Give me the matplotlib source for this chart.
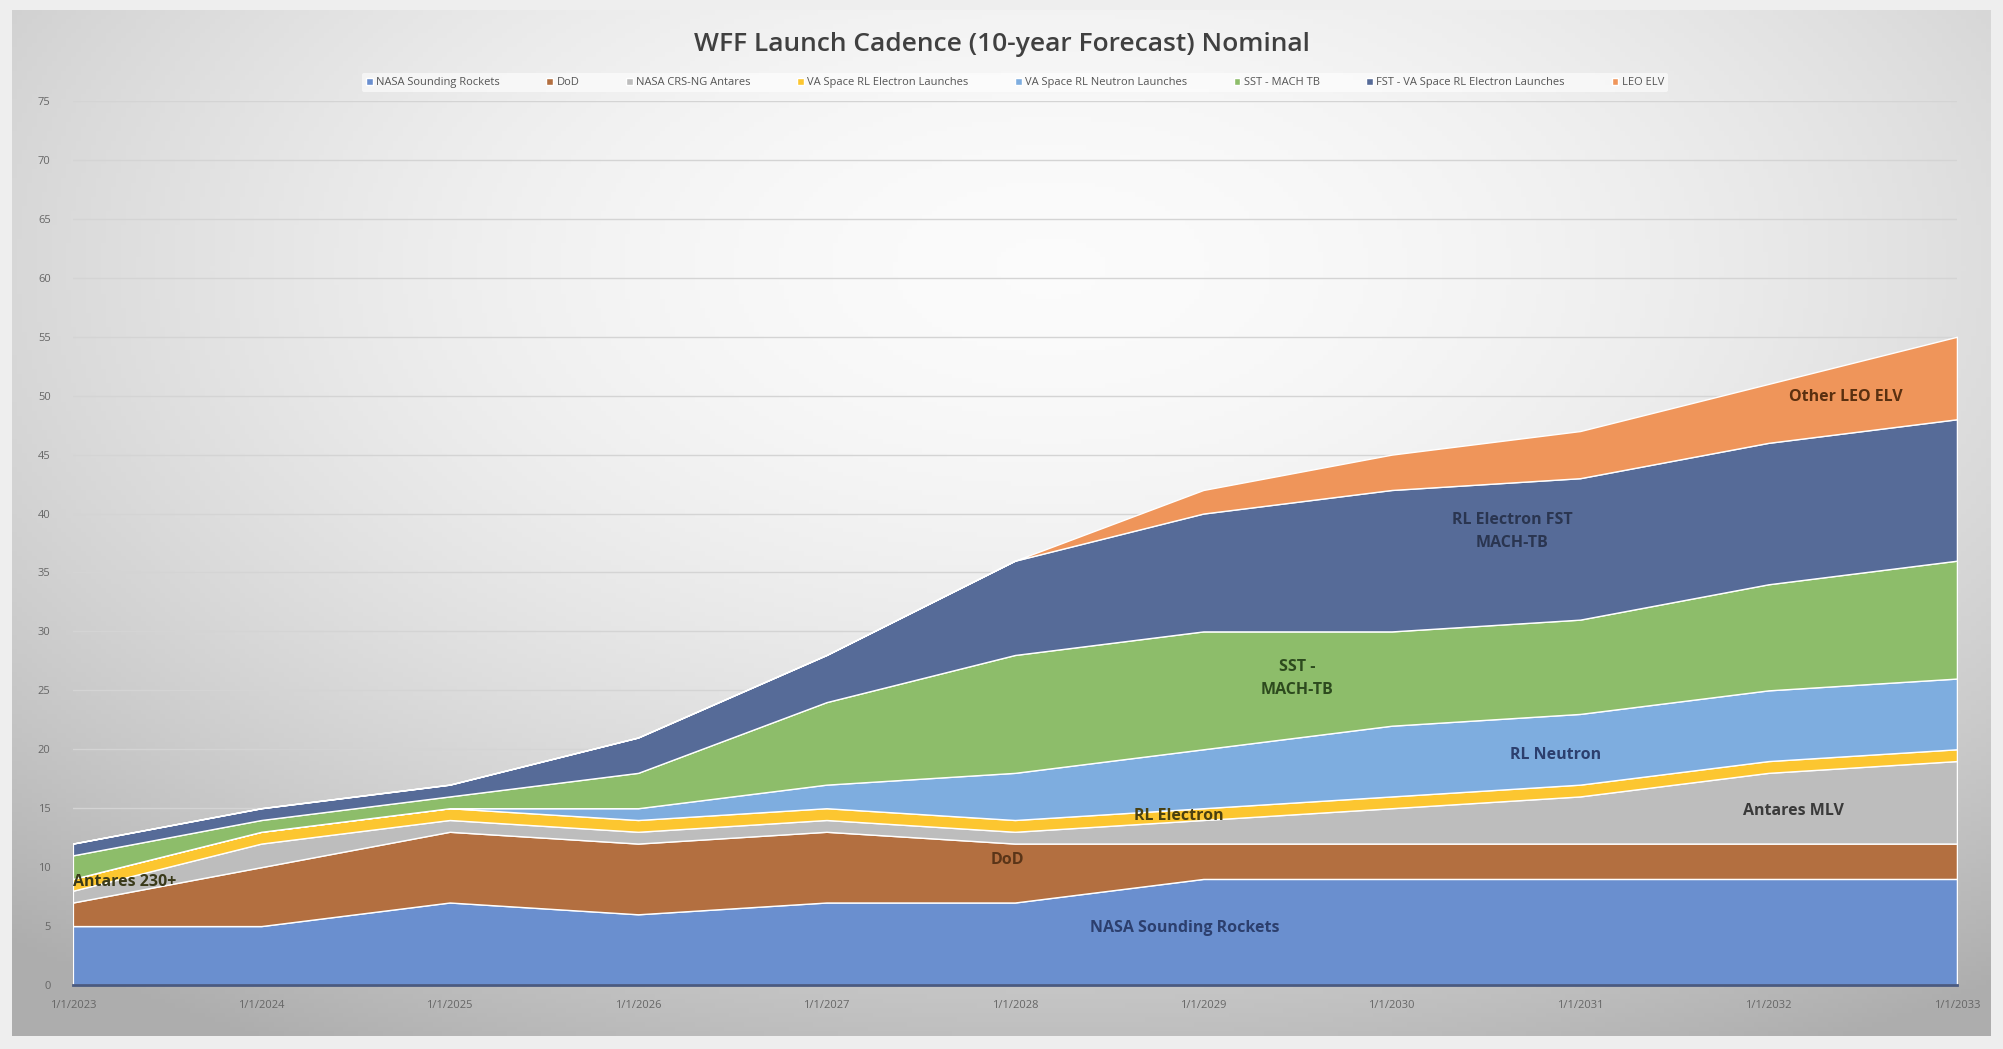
import numpy as np
import matplotlib.pyplot as plt

years = [2023, 2024, 2025, 2026, 2027, 2028, 2029, 2030, 2031, 2032, 2033]
x_labels = ['1/1/%d' % y for y in years]

# launches per year for each program (stacked)
nasa_sr = [5, 5, 7, 6, 7, 7, 9, 9, 9, 9, 9]
dod = [2, 5, 6, 6, 6, 5, 3, 3, 3, 3, 3]
crs_antares = [1, 2, 1, 1, 1, 1, 2, 3, 4, 6, 7]
rl_electron = [1, 1, 1, 1, 1, 1, 1, 1, 1, 1, 1]
rl_neutron = [0, 0, 0, 1, 2, 4, 5, 6, 6, 6, 6]
sst_mach = [2, 1, 1, 3, 7, 10, 10, 8, 8, 9, 10]
fst_electron = [1, 1, 1, 3, 4, 8, 10, 12, 12, 12, 12]
leo_elv = [0, 0, 0, 0, 0, 0, 2, 3, 4, 5, 7]

series = [nasa_sr, dod, crs_antares, rl_electron, rl_neutron, sst_mach, fst_electron, leo_elv]
names = ['NASA Sounding Rockets', 'DoD', 'NASA CRS-NG Antares', 'VA Space RL Electron Launches',
         'VA Space RL Neutron Launches', 'SST - MACH TB', 'FST - VA Space RL Electron Launches', 'LEO ELV']
colors = ['#6a8fcf', '#b36f40', '#bdbdbd', '#fcc630', '#7eaddf', '#8dbd6a', '#566b98', '#ef955a']

plt.rcParams['font.family'] = ['Open Sans', 'DejaVu Sans']

fig = plt.figure(figsize=(20.03, 10.49), dpi=100)

# background card with soft radial gradient (light centre, grey edges)
bg = fig.add_axes([0, 0, 1, 1], zorder=-10)
gx, gy = np.meshgrid(np.linspace(-1, 1, 400), np.linspace(-1, 1, 220))
r = np.sqrt(((gx - 0.05) * 0.8) ** 2 + ((gy + 0.5) * 0.75) ** 2)
shade = 0.985 - 0.19 * np.clip(r, 0, 1.3) ** 1.8
rgb = np.dstack([shade, shade, shade])
bg.imshow(rgb, extent=[0.006, 0.994, 0.012, 0.99], aspect='auto', origin='upper')
bg.set_xlim(0, 1)
bg.set_ylim(0, 1)
bg.axis('off')
fig.patch.set_facecolor('#eeeeee')

ax = fig.add_axes([0.0364, 0.061, 0.9406, 0.8427])
ax.patch.set_alpha(0)
ax.stackplot(years, *series, colors=colors, labels=names, edgecolor='white', linewidth=1.0)

ax.set_xlim(2023, 2033)
ax.set_ylim(0, 75)
ax.set_yticks(range(0, 76, 5))
ax.set_xticks(years)
ax.set_xticklabels(x_labels)
ax.tick_params(axis='both', length=0, labelsize=8, colors='#666666')
ax.tick_params(axis='x', pad=11)
ax.tick_params(axis='y', pad=16)
ax.grid(axis='y', color='#d4d4d4', linewidth=1)
ax.set_axisbelow(True)
for s in ['top', 'right', 'left']:
    ax.spines[s].set_visible(False)
ax.spines['bottom'].set_color('#4a5a80')
ax.spines['bottom'].set_linewidth(2)

fig.text(0.5, 0.958, 'WFF Launch Cadence (10-year Forecast) Nominal', ha='center', va='center',
         fontsize=19, color='#404040', fontweight='semibold')

leg = ax.legend(loc='center', bbox_to_anchor=(0.5, 1.021), ncol=8, frameon=True,
                fontsize=8, handlelength=0.6, handleheight=0.6, columnspacing=4.2,
                handletextpad=0.3, labelcolor='#555555')
leg.get_frame().set_facecolor('white')
leg.get_frame().set_alpha(0.6)
leg.get_frame().set_linewidth(0)

# in-chart labels
lab = dict(fontsize=11.5, fontweight='bold', va='center')
ax.text(2023.0, 8.7, 'Antares 230+', color='#3a3a1a', ha='left', **lab)
ax.text(2027.96, 10.6, 'DoD', color='#5a3518', ha='center', **lab)
ax.text(2028.9, 4.8, 'NASA Sounding Rockets', color='#2c3f6e', ha='center', **lab)
ax.text(2028.87, 14.3, 'RL Electron', color='#4a4010', ha='center', **lab)
ax.text(2029.5, 26.0, 'SST -\nMACH-TB', color='#2d4a1e', ha='center', linespacing=1.6, **lab)
ax.text(2030.87, 19.5, 'RL Neutron', color='#2c3f6e', ha='center', **lab)
ax.text(2032.13, 14.8, 'Antares MLV', color='#3a3a3a', ha='center', **lab)
ax.text(2030.64, 38.5, 'RL Electron FST\nMACH-TB', color='#2a3550', ha='center', linespacing=1.6, **lab)
ax.text(2032.41, 49.9, 'Other LEO ELV', color='#5a3010', ha='center', **lab)

fig.savefig('out.png', dpi=100)
